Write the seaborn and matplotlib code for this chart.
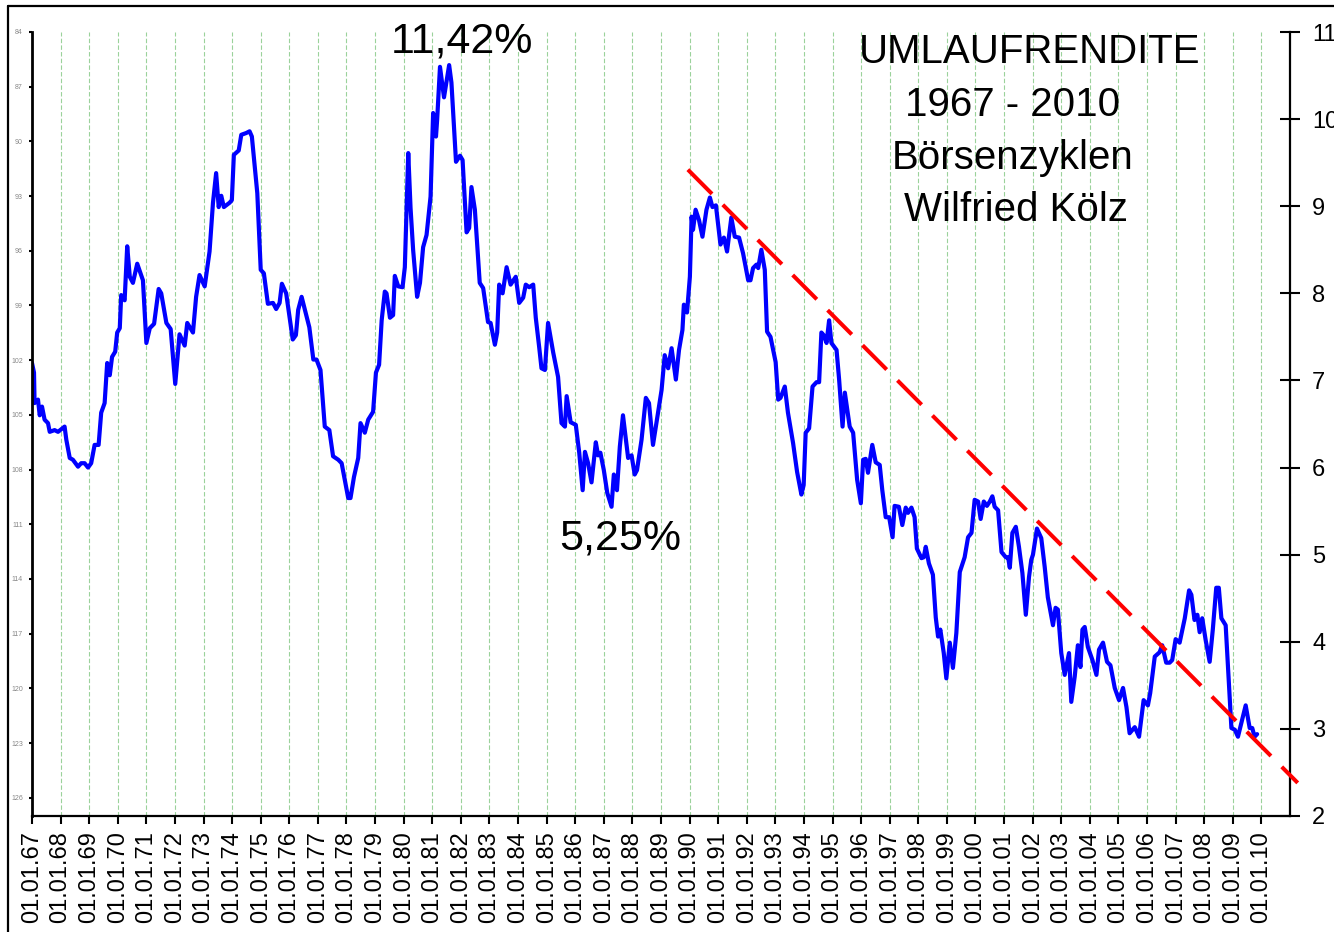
# Umlaufrendite 1967 - 2010 (Boersenzyklen, W. Koelz) - nachgebaut mit seaborn

import numpy as np
import pandas as pd
import matplotlib
matplotlib.use("Agg")
import matplotlib.pyplot as plt
import matplotlib.lines as mlines
import seaborn as sns

# ============================================
# Daten
# ============================================

jahr = [
    1967.00, 1967.07, 1967.09, 1967.21, 1967.27, 1967.35, 1967.44, 1967.56, 1967.62, 1967.79, 1967.91,
    1968.14, 1968.20, 1968.32, 1968.43, 1968.61, 1968.72, 1968.84, 1968.96,
    1969.07, 1969.19, 1969.33, 1969.42, 1969.54, 1969.63, 1969.72, 1969.80, 1969.91, 1969.98,
    1970.07, 1970.12, 1970.24, 1970.33, 1970.42, 1970.53, 1970.68, 1970.88,
    1971.00, 1971.12, 1971.27, 1971.43, 1971.52, 1971.70, 1971.85,
    1972.01, 1972.16, 1972.34, 1972.43, 1972.63, 1972.74, 1972.86,
    1973.04, 1973.21, 1973.33, 1973.44, 1973.53, 1973.62, 1973.71, 1973.91, 1973.99,
    1974.06, 1974.23, 1974.32, 1974.49, 1974.61, 1974.69, 1974.88,
    1975.00, 1975.11, 1975.25, 1975.43, 1975.54, 1975.66, 1975.74, 1975.89,
    1976.12, 1976.23, 1976.31, 1976.43, 1976.70, 1976.84, 1976.95,
    1977.09, 1977.24, 1977.40, 1977.53, 1977.71, 1977.83, 1977.94,
    1978.06, 1978.14, 1978.26, 1978.41, 1978.49, 1978.64, 1978.76, 1978.93,
    1979.03, 1979.14, 1979.23, 1979.34, 1979.40, 1979.52, 1979.63, 1979.69, 1979.81, 1979.96,
    1980.04, 1980.16, 1980.24, 1980.33, 1980.47, 1980.57, 1980.68, 1980.80, 1980.94,
    1981.03, 1981.13, 1981.17, 1981.27, 1981.41, 1981.59, 1981.67, 1981.83, 1981.97,
    1982.06, 1982.20, 1982.29, 1982.37, 1982.49, 1982.66, 1982.78, 1982.95,
    1983.04, 1983.19, 1983.27, 1983.34, 1983.46, 1983.60, 1983.74, 1983.92,
    1984.04, 1984.18, 1984.27, 1984.39, 1984.53, 1984.62, 1984.74, 1984.82, 1984.94,
    1985.05, 1985.23, 1985.40, 1985.52, 1985.64, 1985.70, 1985.84,
    1986.02, 1986.14, 1986.26, 1986.34, 1986.45, 1986.57, 1986.72, 1986.80, 1986.88,
    1987.00, 1987.12, 1987.27, 1987.35, 1987.46, 1987.56, 1987.67, 1987.85, 1987.97,
    1988.08, 1988.16, 1988.32, 1988.47, 1988.58, 1988.72, 1988.84,
    1989.02, 1989.13, 1989.25, 1989.37, 1989.52, 1989.63, 1989.75, 1989.80, 1989.91,
    1990.01, 1990.07, 1990.12, 1990.21, 1990.33, 1990.45, 1990.59, 1990.71, 1990.80, 1990.92,
    1991.08, 1991.20, 1991.31, 1991.46, 1991.58, 1991.73, 1991.87,
    1992.05, 1992.13, 1992.22, 1992.34, 1992.40, 1992.51, 1992.63, 1992.71, 1992.83,
    1993.01, 1993.10, 1993.18, 1993.33, 1993.44, 1993.62, 1993.76, 1993.91, 1993.99,
    1994.06, 1994.18, 1994.30, 1994.44, 1994.53, 1994.61, 1994.69, 1994.79, 1994.88, 1994.96,
    1995.14, 1995.23, 1995.35, 1995.43, 1995.60, 1995.72, 1995.86, 1995.99,
    1996.07, 1996.16, 1996.24, 1996.39, 1996.51, 1996.65, 1996.74, 1996.86, 1996.98,
    1997.10, 1997.17, 1997.32, 1997.44, 1997.56, 1997.64, 1997.76, 1997.87, 1997.95,
    1998.11, 1998.19, 1998.26, 1998.37, 1998.51, 1998.61, 1998.69, 1998.77, 1998.89, 1998.98,
    1999.10, 1999.21, 1999.33, 1999.45, 1999.62, 1999.74, 1999.86, 1999.97,
    2000.09, 2000.18, 2000.29, 2000.40, 2000.50, 2000.59, 2000.67, 2000.79, 2000.91,
    2001.06, 2001.14, 2001.20, 2001.29, 2001.41, 2001.52, 2001.64, 2001.76, 2001.87, 2001.95,
    2002.01, 2002.15, 2002.30, 2002.42, 2002.53, 2002.71, 2002.80, 2002.88,
    2003.00, 2003.12, 2003.27, 2003.35, 2003.47, 2003.58, 2003.67, 2003.74, 2003.82, 2003.93,
    2004.09, 2004.23, 2004.32, 2004.46, 2004.60, 2004.72, 2004.87,
    2005.02, 2005.16, 2005.28, 2005.39, 2005.57, 2005.72, 2005.88,
    2006.03, 2006.11, 2006.27, 2006.44, 2006.53, 2006.67, 2006.79, 2006.88,
    2007.00, 2007.14, 2007.32, 2007.47, 2007.55, 2007.66, 2007.76, 2007.84, 2007.93,
    2008.05, 2008.19, 2008.30, 2008.42, 2008.51, 2008.60, 2008.75, 2008.83, 2008.95,
    2009.07, 2009.18, 2009.30, 2009.45, 2009.59, 2009.68, 2009.76, 2009.85,
]

rendite = [
    7.20, 7.09, 6.74, 6.78, 6.60, 6.70, 6.55, 6.51, 6.41, 6.43, 6.41,
    6.47, 6.32, 6.11, 6.09, 6.01, 6.05, 6.05, 6.00,
    6.05, 6.26, 6.26, 6.63, 6.74, 7.20, 7.06, 7.27, 7.33, 7.55,
    7.60, 7.98, 7.92, 8.54, 8.19, 8.12, 8.34, 8.15,
    7.43, 7.60, 7.65, 8.05, 8.00, 7.66, 7.59,
    6.96, 7.53, 7.40, 7.66, 7.55, 7.96, 8.21,
    8.08, 8.48, 9.04, 9.38, 8.99, 9.12, 8.99, 9.04, 9.07,
    9.59, 9.64, 9.82, 9.84, 9.86, 9.80, 9.15,
    8.27, 8.23, 7.88, 7.89, 7.82, 7.89, 8.11, 8.00,
    7.47, 7.52, 7.81, 7.96, 7.61, 7.24, 7.24,
    7.12, 6.47, 6.43, 6.13, 6.09, 6.05, 5.86,
    5.65, 5.65, 5.89, 6.11, 6.51, 6.40, 6.55, 6.64,
    7.09, 7.18, 7.69, 8.02, 8.00, 7.72, 7.75, 8.20, 8.08, 8.07,
    8.30, 9.61, 8.98, 8.50, 7.96, 8.12, 8.53, 8.67, 9.11,
    10.07, 9.80, 9.99, 10.60, 10.25, 10.62, 10.42, 9.51, 9.58,
    9.53, 8.70, 8.75, 9.22, 8.96, 8.12, 8.06, 7.67,
    7.66, 7.41, 7.55, 8.10, 8.00, 8.30, 8.10, 8.19,
    7.89, 7.95, 8.10, 8.07, 8.10, 7.72, 7.38, 7.14, 7.12,
    7.66, 7.32, 7.04, 6.51, 6.47, 6.82, 6.52,
    6.49, 6.17, 5.74, 6.18, 6.05, 5.83, 6.29, 6.14, 6.17,
    5.97, 5.71, 5.55, 5.92, 5.74, 6.24, 6.60, 6.11, 6.14,
    5.92, 5.97, 6.32, 6.80, 6.74, 6.26, 6.51,
    6.89, 7.29, 7.14, 7.37, 7.01, 7.35, 7.58, 7.87, 7.78,
    8.19, 8.88, 8.73, 8.96, 8.84, 8.65, 8.96, 9.10, 8.99, 9.01,
    8.56, 8.64, 8.48, 8.87, 8.65, 8.64, 8.46,
    8.15, 8.15, 8.29, 8.33, 8.29, 8.50, 8.27, 7.56, 7.50,
    7.21, 6.78, 6.80, 6.93, 6.63, 6.28, 5.95, 5.69, 5.80,
    6.40, 6.45, 6.93, 6.98, 6.98, 7.55, 7.52, 7.43, 7.69, 7.43,
    7.35, 7.01, 6.47, 6.86, 6.47, 6.40, 5.86, 5.59,
    6.09, 6.10, 5.94, 6.26, 6.06, 6.03, 5.74, 5.43, 5.43,
    5.20, 5.56, 5.55, 5.34, 5.54, 5.48, 5.54, 5.43, 5.07,
    4.96, 4.97, 5.09, 4.90, 4.77, 4.28, 4.06, 4.14, 3.87, 3.58,
    3.99, 3.70, 4.10, 4.80, 4.97, 5.20, 5.25, 5.63,
    5.61, 5.41, 5.61, 5.56, 5.61, 5.67, 5.55, 5.51, 5.03,
    4.97, 4.97, 4.85, 5.25, 5.32, 5.09, 4.79, 4.31, 4.74, 4.94,
    5.00, 5.30, 5.19, 4.86, 4.51, 4.19, 4.39, 4.37,
    3.87, 3.62, 3.87, 3.31, 3.60, 3.96, 3.71, 4.14, 4.17, 3.94,
    3.79, 3.62, 3.91, 3.99, 3.77, 3.73, 3.47,
    3.33, 3.47, 3.25, 2.95, 3.02, 2.91, 3.33,
    3.27, 3.41, 3.83, 3.88, 3.96, 3.76, 3.76, 3.79,
    4.03, 3.99, 4.27, 4.59, 4.54, 4.25, 4.31, 4.11, 4.27,
    4.02, 3.77, 4.14, 4.62, 4.62, 4.27, 4.19, 3.71, 3.01,
    2.99, 2.91, 3.07, 3.27, 3.01, 3.01, 2.91, 2.94,
]

# Trendlinie (rot gestrichelt)
trend_jahr = [1989.94, 2011.27]
trend_wert = [9.42, 2.38]

# Achsen
x_ticks = list(range(1967, 2011))
x_labels = [f"01.01.{j % 100:02d}" for j in x_ticks]
y_rechts = list(range(2, 12))
y_links = list(range(84, 127, 3))

# Texte
titel_zeilen = ["UMLAUFRENDITE", "1967 - 2010", "Börsenzyklen", "Wilfried Kölz"]

df = pd.DataFrame({"jahr": jahr, "rendite": rendite})

# ============================================
# Setup
# ============================================

sns.set_theme(style="white")
plt.rcParams["font.family"] = ["Liberation Sans", "DejaVu Sans"]
plt.rcParams["text.color"] = "black"

fig = plt.figure(figsize=(13.34, 9.32), dpi=100)
fig.patch.set_facecolor("white")
ax = fig.add_axes([32 / 1334, 116 / 932, 1258 / 1334, 784 / 932])
# twinx zuerst, sonst landen die Rendite-Ticks wieder links
axl = ax.twinx()

# vertikale Gitterlinien (gruen gestrichelt)
for j in x_ticks[1:]:
    ax.axvline(j, color="#9bd29b", lw=0.8, ls=(0, (4, 2)), zorder=0)

# Rendite-Kurve
sns.lineplot(data=df, x="jahr", y="rendite", ax=ax, color="#0000ff",
             lw=3.0, sort=False, zorder=3)

# Trendlinie
ax.plot(trend_jahr, trend_wert, color="#ff0000", lw=2.9,
        ls=(0, (8.5, 3.8)), clip_on=False, zorder=4)

ax.set_xlim(1967, 2011)
ax.set_ylim(2, 11)
ax.set_xlabel("")
ax.set_ylabel("")

# x-Achse
ax.set_xticks(x_ticks)
ax.set_xticklabels(x_labels, rotation=90, fontsize=17, color="black")
ax.tick_params(axis="x", direction="out", length=6, width=1.5,
               color="black", pad=5, bottom=True)

# rechte y-Achse (Rendite)
ax.yaxis.tick_right()
ax.set_yticks(y_rechts)
ax.set_yticklabels([str(v) for v in y_rechts], fontsize=17, color="black")
ax.tick_params(axis="y", direction="inout", length=14, width=1.5,
               color="black", pad=9, right=True, left=False,
               labelright=True, labelleft=False)

for s in ["top", "left"]:
    ax.spines[s].set_visible(False)
for s in ["right", "bottom"]:
    ax.spines[s].set_visible(True)
    ax.spines[s].set_color("black")
    ax.spines[s].set_linewidth(1.6)

# linke y-Achse (kleine graue Skala)
axl.set_ylim(127, 84)
axl.yaxis.tick_left()
axl.set_yticks(y_links)
axl.set_yticklabels([str(v) for v in y_links], fontsize=5, color="#888888")
axl.tick_params(axis="y", direction="out", length=2.5, width=1.5,
                color="black", pad=4, left=True, right=False,
                labelleft=True, labelright=False)
axl.set_ylabel("")
for s in ["top", "right", "bottom"]:
    axl.spines[s].set_visible(False)
axl.spines["left"].set_visible(True)
axl.spines["left"].set_color("black")
axl.spines["left"].set_linewidth(2.0)

# Beschriftungen
ax.text(1982.03, 10.89, "11,42%", fontsize=31, ha="center", va="center",
        color="black", zorder=5)
ax.text(1987.56, 5.19, "5,25%", fontsize=31, ha="center", va="center",
        color="black", zorder=5)
titel_x = [2001.9, 2001.3, 2001.3, 2001.4]
titel_y = [10.77, 10.16, 9.55, 8.96]
for zeile, xv, yv in zip(titel_zeilen, titel_x, titel_y):
    ax.text(xv, yv, zeile, fontsize=29, ha="center", va="center",
            color="black", zorder=5)

# Rahmen (links und oben)
fig.add_artist(mlines.Line2D([8 / 1334, 8 / 1334], [0, 1 - 6 / 932],
                             color="black", lw=1.6, transform=fig.transFigure))
fig.add_artist(mlines.Line2D([8 / 1334, 1], [1 - 6 / 932, 1 - 6 / 932],
                             color="black", lw=1.6, transform=fig.transFigure))

plt.savefig("out.png", dpi=100)
